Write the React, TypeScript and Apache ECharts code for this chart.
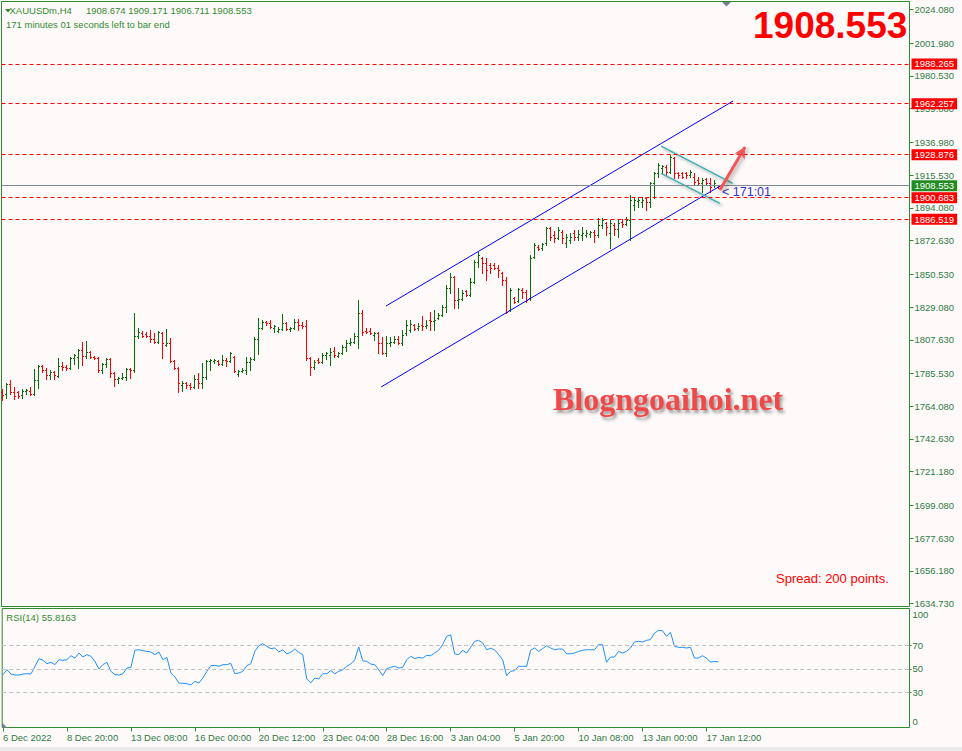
import React, { useEffect, useRef } from "react";
import * as echarts from "echarts";

// ---------- data ----------
const TIME_LABELS = [
  "6 Dec 2022", "8 Dec 20:00", "13 Dec 08:00", "16 Dec 00:00", "20 Dec 12:00", "23 Dec 04:00",
  "28 Dec 16:00", "3 Jan 04:00", "5 Jan 20:00", "10 Jan 08:00", "13 Jan 00:00", "17 Jan 12:00",
];
const TIME_LABEL_STEP = 16; // bars between time labels

const PRICE_TICKS = [
  2024.08, 2001.98, 1980.53, 1959.08, 1936.98, 1915.53, 1894.08, 1872.63, 1850.53, 1829.08,
  1807.63, 1785.53, 1764.08, 1742.63, 1721.18, 1699.08, 1677.63, 1656.18, 1634.73,
];

const OPEN = [
  1773.4, 1772.1, 1778.7, 1773.4, 1773.4, 1771.4, 1774.1, 1774.1, 1772.1, 1781.3,
  1790.4, 1787.8, 1784.5, 1786.5, 1783.9, 1790.4, 1789.8, 1789.1, 1795.7, 1796.3,
  1800.9, 1797.0, 1799.6, 1796.3, 1795.7, 1787.8, 1791.8, 1795.0, 1785.9, 1781.9,
  1782.6, 1783.2, 1788.5, 1787.8, 1810.1, 1812.1, 1811.4, 1810.1, 1808.1, 1806.2,
  1812.1, 1804.2, 1805.5, 1793.7, 1789.1, 1778.0, 1779.3, 1778.0, 1776.7, 1781.9,
  1779.3, 1783.2, 1793.7, 1793.7, 1793.7, 1791.8, 1794.4, 1793.7, 1796.3, 1785.2,
  1787.2, 1787.8, 1793.1, 1795.0, 1808.1, 1815.3, 1819.3, 1818.6, 1815.3, 1813.4,
  1814.7, 1818.6, 1814.7, 1815.3, 1819.3, 1817.3, 1816.6, 1795.7, 1789.8, 1794.4,
  1793.1, 1797.6, 1797.6, 1800.3, 1797.0, 1799.0, 1802.9, 1805.5, 1806.2, 1810.1,
  1825.2, 1813.4, 1813.4, 1810.7, 1812.1, 1805.5, 1799.0, 1805.5, 1806.2, 1808.1,
  1805.5, 1812.1, 1814.0, 1817.3, 1815.3, 1817.3, 1816.6, 1820.6, 1819.9, 1821.9,
  1823.8, 1829.1, 1841.5, 1848.7, 1833.7, 1834.3, 1839.6, 1836.9, 1845.5, 1858.6,
  1861.2, 1857.9, 1856.6, 1856.6, 1854.6, 1851.4, 1846.8, 1827.1, 1835.0, 1833.0,
  1840.2, 1838.9, 1835.0, 1861.8, 1868.4, 1867.7, 1871.0, 1880.8, 1876.2, 1874.3,
  1878.2, 1871.0, 1873.0, 1877.6, 1874.9, 1876.2, 1876.2, 1876.9, 1878.2, 1876.2,
  1882.8, 1884.1, 1877.6, 1882.8, 1880.2, 1884.8, 1883.5, 1886.1, 1895.9, 1898.5,
  1897.9, 1900.5, 1897.9, 1910.3, 1916.9, 1920.1, 1920.8, 1917.5, 1926.7, 1916.9,
  1916.9, 1916.9, 1915.5, 1914.2, 1912.3, 1910.3, 1912.9, 1910.3, 1909.0, 1908.674,
];
const HIGH = [
  1775.4, 1779.3, 1781.3, 1776.7, 1774.1, 1775.4, 1775.4, 1776.7, 1788.5, 1791.1,
  1791.1, 1789.1, 1787.8, 1787.2, 1795.7, 1793.1, 1791.1, 1796.3, 1798.3, 1801.6,
  1806.2, 1806.8, 1800.3, 1797.0, 1796.3, 1792.4, 1795.7, 1795.7, 1786.5, 1783.2,
  1785.9, 1789.1, 1789.1, 1825.2, 1815.3, 1813.4, 1812.7, 1814.0, 1812.1, 1813.4,
  1812.7, 1814.7, 1808.8, 1794.4, 1789.8, 1780.6, 1780.0, 1779.3, 1784.5, 1785.9,
  1792.4, 1794.4, 1795.0, 1795.0, 1794.4, 1797.6, 1795.7, 1799.6, 1797.0, 1787.8,
  1789.1, 1796.3, 1796.3, 1809.4, 1821.9, 1820.6, 1819.9, 1820.6, 1817.3, 1816.0,
  1824.5, 1819.3, 1816.0, 1821.2, 1821.2, 1819.3, 1820.6, 1796.3, 1794.4, 1795.7,
  1799.0, 1799.6, 1802.2, 1802.9, 1799.6, 1804.2, 1807.5, 1808.8, 1812.1, 1833.7,
  1827.1, 1815.3, 1815.3, 1812.7, 1812.7, 1809.4, 1810.1, 1809.4, 1810.1, 1810.1,
  1814.0, 1820.6, 1820.6, 1818.0, 1818.6, 1823.2, 1820.6, 1825.8, 1827.1, 1825.2,
  1830.4, 1843.5, 1851.4, 1849.4, 1841.5, 1840.2, 1840.2, 1848.1, 1859.9, 1865.1,
  1861.8, 1861.2, 1857.9, 1857.9, 1856.6, 1852.0, 1848.7, 1841.5, 1835.6, 1841.5,
  1841.5, 1840.2, 1863.1, 1871.0, 1869.7, 1871.0, 1881.5, 1881.5, 1878.9, 1881.5,
  1879.5, 1876.9, 1877.6, 1879.5, 1879.5, 1881.5, 1879.5, 1878.9, 1879.5, 1887.4,
  1887.4, 1884.8, 1886.1, 1884.1, 1886.1, 1886.7, 1888.0, 1902.4, 1901.1, 1901.1,
  1901.1, 1901.1, 1911.0, 1917.5, 1923.4, 1922.1, 1922.1, 1928.6, 1927.3, 1917.5,
  1917.5, 1917.5, 1918.8, 1916.9, 1914.2, 1913.6, 1913.6, 1913.6, 1912.3, 1909.171,
];
const LOW = [
  1768.2, 1769.5, 1772.1, 1768.8, 1769.5, 1769.5, 1772.1, 1771.4, 1771.4, 1776.0,
  1786.5, 1781.9, 1781.9, 1781.9, 1783.2, 1787.8, 1787.8, 1788.5, 1791.8, 1789.1,
  1791.1, 1795.7, 1795.7, 1795.0, 1786.5, 1785.9, 1789.8, 1783.2, 1777.3, 1779.3,
  1781.9, 1781.3, 1782.6, 1786.5, 1808.8, 1809.4, 1809.4, 1806.2, 1805.5, 1805.5,
  1795.7, 1803.5, 1793.1, 1788.5, 1773.4, 1774.1, 1776.0, 1775.4, 1776.0, 1776.0,
  1776.0, 1781.9, 1787.8, 1792.4, 1791.1, 1791.1, 1790.4, 1793.1, 1786.5, 1783.9,
  1786.5, 1785.2, 1787.8, 1794.4, 1798.3, 1814.7, 1817.3, 1815.3, 1812.7, 1812.7,
  1814.0, 1814.0, 1813.4, 1814.7, 1814.0, 1815.3, 1794.4, 1784.5, 1788.5, 1792.4,
  1792.4, 1795.0, 1791.1, 1796.3, 1796.3, 1798.3, 1800.3, 1804.2, 1805.5, 1802.2,
  1810.7, 1812.1, 1811.4, 1807.5, 1799.0, 1798.3, 1797.0, 1803.5, 1805.5, 1804.8,
  1804.2, 1810.7, 1812.7, 1814.0, 1814.0, 1814.0, 1815.3, 1814.0, 1814.0, 1821.2,
  1823.2, 1825.8, 1838.3, 1828.4, 1828.4, 1833.7, 1836.3, 1836.3, 1844.8, 1855.3,
  1851.4, 1846.8, 1851.4, 1854.0, 1848.7, 1843.5, 1825.2, 1826.5, 1831.7, 1832.4,
  1835.0, 1832.4, 1833.7, 1861.2, 1866.4, 1866.4, 1869.7, 1873.0, 1871.7, 1873.6,
  1871.0, 1868.4, 1871.0, 1873.0, 1873.0, 1873.0, 1874.9, 1874.9, 1871.7, 1874.9,
  1880.8, 1876.2, 1867.7, 1876.2, 1874.9, 1881.5, 1882.8, 1873.0, 1892.6, 1894.6,
  1894.6, 1892.6, 1894.6, 1900.5, 1914.2, 1916.9, 1915.5, 1916.9, 1913.6, 1913.6,
  1913.6, 1913.6, 1914.2, 1909.6, 1909.0, 1904.4, 1909.0, 1904.4, 1907.7, 1906.711,
];
const CLOSE = [
  1771.4, 1778.7, 1773.4, 1770.8, 1770.8, 1774.1, 1774.7, 1772.1, 1781.3, 1790.4,
  1787.8, 1784.5, 1786.5, 1784.5, 1790.4, 1789.8, 1789.1, 1795.7, 1797.6, 1800.9,
  1797.0, 1799.6, 1796.3, 1795.7, 1787.8, 1791.8, 1795.0, 1785.9, 1781.9, 1782.6,
  1783.2, 1788.5, 1787.8, 1810.1, 1812.7, 1810.1, 1810.1, 1808.1, 1806.2, 1812.7,
  1805.5, 1805.5, 1793.7, 1789.1, 1779.3, 1779.3, 1778.0, 1776.7, 1781.9, 1779.3,
  1783.2, 1793.7, 1794.4, 1794.4, 1791.8, 1794.4, 1793.7, 1799.0, 1787.2, 1787.2,
  1787.8, 1793.1, 1795.0, 1808.1, 1815.3, 1819.3, 1818.6, 1816.0, 1816.6, 1814.7,
  1818.6, 1814.7, 1815.3, 1819.3, 1817.3, 1816.6, 1795.7, 1789.8, 1793.1, 1793.1,
  1797.6, 1799.0, 1799.6, 1797.6, 1799.0, 1802.9, 1805.5, 1806.2, 1810.1, 1825.2,
  1812.7, 1812.7, 1812.1, 1812.1, 1805.5, 1799.0, 1805.5, 1806.2, 1808.1, 1805.5,
  1810.7, 1817.3, 1818.0, 1814.7, 1816.6, 1816.6, 1817.3, 1819.9, 1820.6, 1823.8,
  1829.1, 1841.5, 1848.7, 1833.7, 1834.3, 1838.3, 1836.9, 1845.5, 1858.6, 1863.1,
  1857.9, 1853.3, 1854.6, 1854.6, 1853.3, 1846.8, 1825.8, 1840.2, 1832.4, 1840.9,
  1838.9, 1833.7, 1861.2, 1869.7, 1867.1, 1870.4, 1880.8, 1874.9, 1874.3, 1879.5,
  1874.3, 1874.9, 1874.9, 1874.9, 1876.9, 1877.6, 1877.6, 1878.2, 1876.2, 1882.8,
  1886.1, 1881.5, 1884.1, 1880.2, 1884.1, 1883.5, 1886.1, 1899.2, 1899.2, 1899.2,
  1899.2, 1897.9, 1910.3, 1916.9, 1922.1, 1921.4, 1917.5, 1927.3, 1916.9, 1915.5,
  1914.2, 1915.5, 1917.5, 1911.0, 1910.3, 1912.3, 1910.3, 1907.7, 1910.3, 1908.553,
];
const RSI = [
  45.0, 49.2, 45.5, 44.7, 44.7, 45.5, 45.8, 45.5, 52.1, 58.6,
  57.2, 54.3, 55.5, 53.5, 57.7, 57.2, 57.7, 61.1, 59.1, 63.4,
  60.0, 62.0, 60.6, 56.3, 49.8, 53.5, 55.5, 47.8, 45.0, 44.7,
  45.8, 50.6, 51.2, 65.7, 66.2, 65.4, 64.8, 64.3, 62.0, 64.3,
  57.7, 59.7, 46.4, 43.0, 37.9, 37.6, 37.3, 36.2, 39.3, 37.9,
  42.1, 47.8, 52.6, 52.9, 52.1, 53.5, 53.5, 54.6, 45.8, 46.4,
  47.8, 52.6, 54.3, 64.8, 69.6, 71.3, 69.1, 67.1, 67.7, 64.3,
  66.2, 62.6, 64.0, 66.8, 64.0, 62.0, 41.3, 37.9, 42.1, 41.3,
  45.8, 45.8, 48.4, 45.8, 47.8, 49.2, 52.1, 54.0, 57.7, 68.5,
  56.8, 56.3, 54.0, 53.5, 49.2, 44.1, 50.1, 51.2, 52.1, 50.6,
  51.2, 57.7, 60.6, 58.6, 59.7, 59.1, 61.4, 61.1, 63.4, 65.7,
  70.5, 77.6, 79.0, 62.6, 62.0, 65.7, 63.4, 68.2, 73.3, 74.2,
  72.0, 66.2, 67.4, 66.2, 62.0, 57.7, 44.1, 47.8, 48.4, 52.1,
  52.1, 52.1, 65.7, 67.7, 64.8, 67.1, 69.6, 67.7, 66.2, 66.8,
  66.8, 62.8, 62.8, 63.4, 64.8, 65.7, 66.2, 66.2, 66.2, 70.5,
  70.5, 55.5, 60.0, 60.0, 64.8, 63.4, 64.8, 67.7, 72.8, 73.3,
  72.8, 74.2, 74.8, 80.4, 82.7, 82.4, 77.6, 81.0, 69.1, 68.2,
  68.2, 67.7, 68.2, 59.1, 59.1, 61.1, 59.1, 55.7, 56.3, 55.8,
];
const RSI_LEVELS = [70, 50, 30];
const RSI_LABELS = ["100", "70", "50", "30", "0"];

const RED_LEVELS = [1988.265, 1962.257, 1928.876, 1900.683, 1886.519];
const BID = 1908.553;
const BAR_OHLC_TEXT = ["1908.674", "1909.171", "1906.711", "1908.553"];

// drawn trend objects, [bar index, price]
const CHANNEL_UPPER = [[95.9, 1829.7], [182.7, 1964.0]];
const CHANNEL_LOWER = [[94.7, 1776.7], [180.7, 1910.3]];
const FLAG_UPPER = [[164.7, 1934.5], [182.6, 1910.1]];
const FLAG_LOWER = [[164.7, 1916.6], [179.4, 1897.0]];
const ARROW = [[179.4, 1905.7], [185.7, 1933.9]];

// ---------- styles ----------
const BG = "#FFFAFA";
const FRAME = "#2E8B2E";
const TXT = "#2F8A2F";
const AXIS_TXT = "#2D7A45";
const UP = "#0A6E0A";
const DOWN = "#FF0000";
const FONT = "'Liberation Sans', Arial, sans-serif";
const X_MIN = -0.2;
const X_MAX = 226.8;

function buildOption() {
  const ohlc = OPEN.map((o, i) => [i, o, HIGH[i], LOW[i], CLOSE[i]]);
  const rsi = RSI.map((v, i) => [i, v]);
  const timeTicks = TIME_LABELS.map((_, k) => k * TIME_LABEL_STEP);

  const renderBar = (params: any, api: any) => {
    const i = api.value(0);
    const o = api.value(1);
    const h = api.value(2);
    const l = api.value(3);
    const c = api.value(4);
    const pO = api.coord([i, o]);
    const pH = api.coord([i, Math.max(h, o, c)]);
    const pL = api.coord([i, Math.min(l, o, c)]);
    const pC = api.coord([i, c]);
    const x = Math.round(pO[0]);
    const yH = Math.round(pH[1]);
    const yL = Math.round(pL[1]);
    const yO = Math.round(pO[1]) + 0.5;
    const yC = Math.round(pC[1]) + 0.5;
    const style = { stroke: c >= o ? UP : DOWN, lineWidth: 1, fill: null };
    return {
      type: "group",
      children: [
        { type: "line", shape: { x1: x + 0.5, y1: yH, x2: x + 0.5, y2: yL + 1 }, style },
        { type: "line", shape: { x1: x - 1, y1: yO, x2: x, y2: yO }, style },
        { type: "line", shape: { x1: x + 1, y1: yC, x2: x + 2, y2: yC }, style },
      ],
    };
  };

  const segment = (pts: number[][], color: string, shadow: boolean) => ({
    type: "line",
    xAxisIndex: 0,
    yAxisIndex: 0,
    data: pts,
    symbol: "none",
    silent: true,
    z: 4,
    lineStyle: shadow
      ? { color, width: 1.5, shadowBlur: 3, shadowColor: "rgba(0,0,0,0.35)", shadowOffsetX: 2, shadowOffsetY: 2 }
      : { color, width: 1 },
  });

  const levelLabel = (v: number, bg: string) => ({
    show: true,
    position: "end",
    distance: 2,
    formatter: v.toFixed(3),
    color: "#FFFFFF",
    backgroundColor: bg,
    padding: [1, 3, 0, 3],
    fontSize: 9.5,
    lineHeight: 10,
    fontFamily: FONT,
  });

  const upperSeries: any = segment(CHANNEL_UPPER, "#0000FF", false);
  upperSeries.markLine = {
    silent: true,
    symbol: ["none", "none"],
    animation: false,
    data: [
      ...RED_LEVELS.map((v) => ({
        yAxis: v,
        lineStyle: { color: "#FF0000", type: [4, 3], width: 1 },
        label: levelLabel(v, "#FF0000"),
      })),
      {
        yAxis: BID,
        lineStyle: { color: "#7A8A99", type: "solid", width: 1 },
        label: levelLabel(BID, "#228B22"),
      },
    ],
  };

  const arrowSeries: any = segment(FLAG_LOWER, "#3FB0B0", true);
  arrowSeries.markLine = {
    silent: true,
    symbol: ["none", "arrow"],
    symbolSize: [9, 11],
    animation: false,
    label: { show: false },
    lineStyle: {
      color: "#F25555",
      width: 3,
      type: "solid",
      shadowBlur: 4,
      shadowColor: "rgba(0,0,0,0.35)",
      shadowOffsetX: 2,
      shadowOffsetY: 2,
    },
    data: [[{ coord: ARROW[0] }, { coord: ARROW[1] }]],
  };

  const noLine = { show: false, onZero: false };

  return {
    animation: false,
    backgroundColor: BG,
    grid: [
      { left: 1.5, top: 1.5, width: 908, height: 605, show: true, borderColor: FRAME, borderWidth: 1, backgroundColor: "transparent" },
      { left: 1.5, top: 608.5, width: 908, height: 119, show: true, borderColor: FRAME, borderWidth: 1, backgroundColor: "transparent" },
    ],
    xAxis: [
      { type: "value", gridIndex: 0, min: X_MIN, max: X_MAX, show: false, axisLine: noLine },
      {
        type: "value",
        gridIndex: 1,
        position: "bottom",
        min: X_MIN,
        max: X_MAX,
        axisLine: noLine,
        splitLine: { show: false },
        axisTick: { show: true, customValues: timeTicks, length: 4, lineStyle: { color: FRAME } },
        axisLabel: {
          customValues: timeTicks,
          formatter: (v: number) => TIME_LABELS[Math.round(v / TIME_LABEL_STEP)] ?? "",
          align: "left",
          margin: 5,
          fontSize: 9.5,
          color: AXIS_TXT,
          fontFamily: FONT,
        },
      },
    ],
    yAxis: [
      {
        type: "value",
        gridIndex: 0,
        position: "right",
        min: 1632.91,
        max: 2029.19,
        axisLine: noLine,
        splitLine: { show: false },
        axisTick: { show: true, customValues: PRICE_TICKS, length: 4, lineStyle: { color: FRAME } },
        axisLabel: {
          customValues: PRICE_TICKS,
          formatter: (v: number) => v.toFixed(3),
          margin: 5,
          fontSize: 9.5,
          color: AXIS_TXT,
          fontFamily: FONT,
        },
      },
      {
        type: "value",
        gridIndex: 1,
        position: "right",
        min: 0,
        max: 101.3,
        axisLine: noLine,
        splitLine: { show: false },
        axisTick: { show: true, customValues: RSI_LEVELS, length: 2, lineStyle: { color: FRAME } },
        axisLabel: {
          customValues: [95.8, 70, 50, 30, 5],
          formatter: (v: number) => (v > 90 ? RSI_LABELS[0] : v < 10 ? RSI_LABELS[4] : String(v)),
          margin: 3,
          fontSize: 9.5,
          color: AXIS_TXT,
          fontFamily: FONT,
        },
      },
    ],
    series: [
      {
        type: "custom",
        xAxisIndex: 0,
        yAxisIndex: 0,
        data: ohlc,
        renderItem: renderBar,
        encode: { x: 0, y: [1, 2, 3, 4] },
        silent: true,
        clip: true,
        z: 3,
      },
      upperSeries,
      segment(CHANNEL_LOWER, "#0000FF", false),
      segment(FLAG_UPPER, "#3FB0B0", true),
      arrowSeries,
      {
        type: "line",
        xAxisIndex: 1,
        yAxisIndex: 1,
        data: rsi,
        symbol: "none",
        silent: true,
        lineStyle: { color: "#1E90FF", width: 1 },
        z: 3,
        markLine: {
          silent: true,
          symbol: ["none", "none"],
          animation: false,
          label: { show: false },
          lineStyle: { color: "#C0C0C0", type: [4, 3], width: 1 },
          data: RSI_LEVELS.map((v) => ({ yAxis: v })),
        },
      },
    ],
    graphic: [
      { type: "polygon", shape: { points: [[5, 9], [11, 9], [8, 12.5]] }, style: { fill: TXT }, silent: true },
      { type: "text", x: 9.5, y: 10.7, style: { text: "XAUUSDm,H4", fill: TXT, fontSize: 9.5, fontFamily: FONT, verticalAlign: "middle" }, silent: true },
      { type: "text", x: 86, y: 10.7, style: { text: BAR_OHLC_TEXT.join(" "), fill: TXT, fontSize: 9.5, fontFamily: FONT, verticalAlign: "middle" }, silent: true },
      { type: "text", x: 6, y: 24.3, style: { text: "171 minutes 01 seconds left to bar end", fill: TXT, fontSize: 9.5, fontFamily: FONT, verticalAlign: "middle" }, silent: true },
      { type: "text", x: 753, y: 25.5, style: { text: BID.toFixed(3), fill: "#FF0000", fontSize: 37, fontWeight: "bold", fontFamily: FONT, verticalAlign: "middle" }, silent: true },
      { type: "polygon", shape: { points: [[722, 2], [731, 2], [726.5, 6.5]] }, style: { fill: "#708090" }, silent: true },
      {
        type: "text",
        x: 553,
        y: 398.5,
        style: {
          text: "Blogngoaihoi.net",
          fill: "#F04848",
          fontSize: 32,
          fontWeight: "bold",
          fontFamily: "'Liberation Serif', 'Times New Roman', serif",
          verticalAlign: "middle",
          textShadowColor: "rgba(80,80,80,0.55)",
          textShadowBlur: 3,
          textShadowOffsetX: 2,
          textShadowOffsetY: 3,
        },
        silent: true,
      },
      { type: "text", x: 776, y: 578, style: { text: "Spread: 200 points.", fill: "#FF0000", fontSize: 13, fontFamily: FONT, verticalAlign: "middle" }, silent: true },
      { type: "text", x: 722, y: 191.5, style: { text: "< 171:01", fill: "#3030D0", fontSize: 12.5, fontFamily: FONT, verticalAlign: "middle" }, silent: true },
      { type: "text", x: 6.3, y: 617.7, style: { text: "RSI(14) 55.8163", fill: TXT, fontSize: 9.5, fontFamily: FONT, verticalAlign: "middle" }, silent: true },
      { type: "polygon", shape: { points: [[2, 722.5], [2, 728], [7.5, 728]] }, style: { fill: "#708090" }, silent: true },
      { type: "rect", shape: { x: 0, y: 747, width: 962, height: 4 }, style: { fill: "#E9E9E9" }, silent: true },
    ],
  };
}

export default function App() {
  const ref = useRef<HTMLDivElement>(null);
  useEffect(() => {
    document.body.style.margin = "0";
    document.body.style.background = BG;
    const chart = echarts.init(ref.current as HTMLDivElement, null, { renderer: "svg", width: 962, height: 751 });
    chart.setOption(buildOption() as any);
    return () => chart.dispose();
  }, []);
  return (
    <div
      ref={ref}
      style={{ position: "absolute", left: 0, top: 0, width: 962, height: 751, background: BG }}
    />
  );
}
